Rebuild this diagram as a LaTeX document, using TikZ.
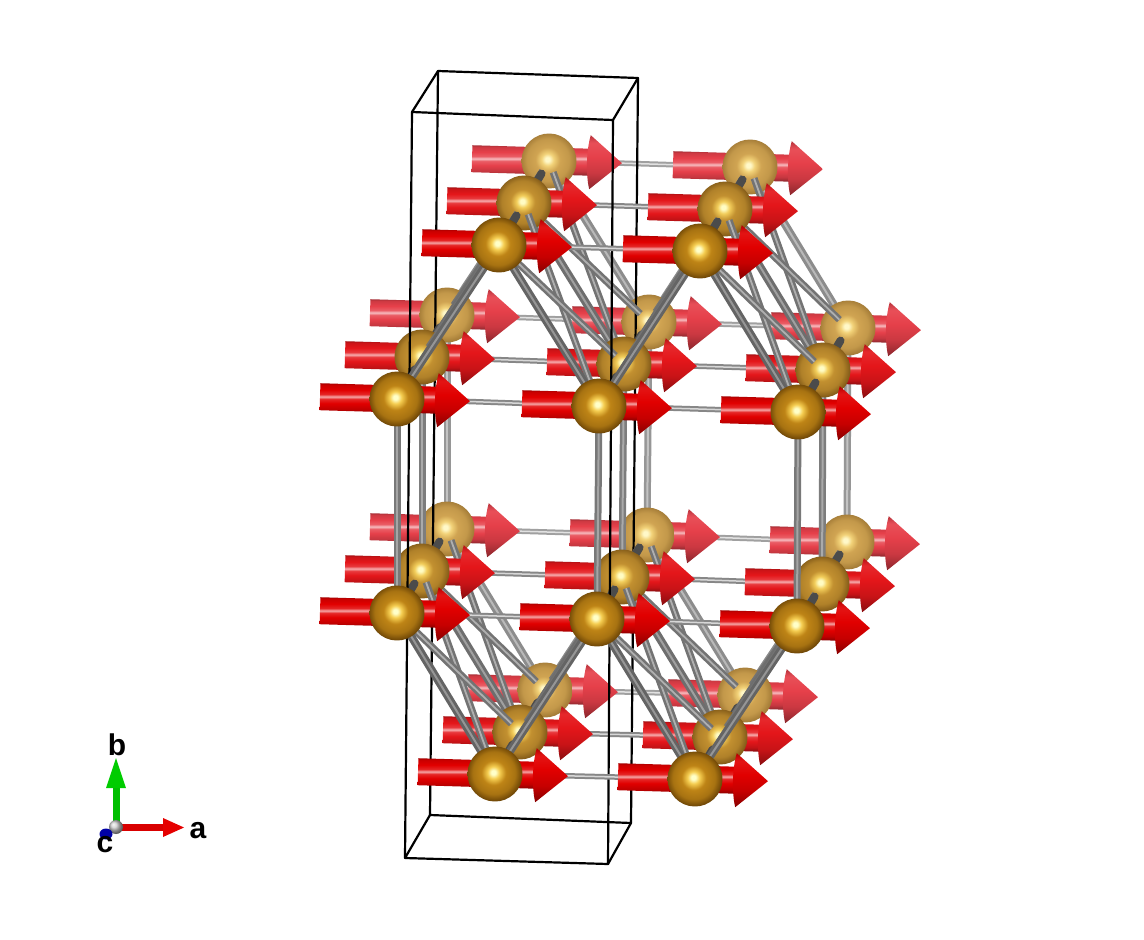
\documentclass[tikz,border=0pt]{standalone}
\usepackage{fontspec}
\setmainfont{Liberation Sans}
\usetikzlibrary{calc}

\definecolor{redF}{RGB}{225,0,0}
\definecolor{redM}{RGB}{228,22,26}
\definecolor{redB}{RGB}{230,64,74}
\definecolor{auHiF}{RGB}{255,255,200}
\definecolor{auYF}{RGB}{245,205,80}
\definecolor{auF}{RGB}{190,132,22}
\definecolor{auEdF}{RGB}{110,70,6}
\definecolor{auHiM}{RGB}{255,252,195}
\definecolor{auYM}{RGB}{242,205,90}
\definecolor{auM}{RGB}{194,144,48}
\definecolor{auEdM}{RGB}{130,90,24}
\definecolor{auHiB}{RGB}{255,248,200}
\definecolor{auYB}{RGB}{242,210,120}
\definecolor{auB}{RGB}{208,164,82}
\definecolor{auEdB}{RGB}{162,122,54}

\newcommand\declshaft[2]{\pgfdeclareverticalshading{#1}{100bp}{color(0bp)=(#2!60!black); color(25bp)=(#2!60!black); color(32bp)=(#2!85!black); color(42bp)=(#2); color(49bp)=(#2!85!white); color(53bp)=(#2!35!white); color(57bp)=(#2!85!white); color(64bp)=(#2); color(72bp)=(#2!90!black); color(75bp)=(#2!75!black); color(100bp)=(#2!75!black)}}
\newcommand\declcone[2]{\pgfdeclareverticalshading{#1}{100bp}{color(0bp)=(#2!60!black); color(25bp)=(#2!60!black); color(40bp)=(#2!88!black); color(55bp)=(#2); color(68bp)=(#2!92!white); color(75bp)=(#2!80!black); color(100bp)=(#2!80!black)}}
\newcommand\declatom[5]{\pgfdeclareradialshading{#1}{\pgfpoint{-1.5bp}{1.5bp}}{color(0bp)=(#2); color(2bp)=(#2); color(5.5bp)=(#3); color(11bp)=(#4); color(19bp)=(#4!72!#5); color(25bp)=(#5); color(50bp)=(#5)}}

\declshaft{shaft0}{redF}\declshaft{shaft1}{redM}\declshaft{shaft2}{redB}
\declcone{cone0}{redF}\declcone{cone1}{redM}\declcone{cone2}{redB}
\declatom{atom0}{auHiF}{auYF}{auF}{auEdF}
\declatom{atom1}{auHiM}{auYM}{auM}{auEdM}
\declatom{atom2}{auHiB}{auYB}{auB}{auEdB}

\definecolor{g75}{RGB}{75,75,75}
\definecolor{g100}{RGB}{100,100,100}
\definecolor{g110}{RGB}{110,110,110}
\definecolor{g115}{RGB}{115,115,115}
\definecolor{g120}{RGB}{120,120,120}
\definecolor{g125}{RGB}{125,125,125}
\definecolor{g135}{RGB}{135,135,135}
\definecolor{g140}{RGB}{140,140,140}
\definecolor{g150}{RGB}{150,150,150}
\definecolor{g160}{RGB}{160,160,160}
\definecolor{g165}{RGB}{165,165,165}
\definecolor{g170}{RGB}{170,170,170}
\definecolor{g175}{RGB}{175,175,175}
\definecolor{g185}{RGB}{185,185,185}
\definecolor{g195}{RGB}{195,195,195}
\definecolor{g215}{RGB}{215,215,215}
\definecolor{g225}{RGB}{225,225,225}

\tikzset{
  cellline/.style={line width=2.2pt, draw=black, line join=round, line cap=round},
  dbond0/.style={line width=2pt, draw=g150, preaction={draw=g100, line width=8pt}},
  dbond1/.style={line width=2pt, draw=g160, preaction={draw=g110, line width=8pt}},
  dbond2/.style={line width=2pt, draw=g185, preaction={draw=g140, line width=8pt}},
  vbond0/.style={line width=2pt, draw=g165, preaction={draw=g120, line width=7pt}},
  vbond1/.style={line width=2pt, draw=g170, preaction={draw=g125, line width=7pt}},
  vbond2/.style={line width=2pt, draw=g195, preaction={draw=g150, line width=7pt}},
  hbond0/.style={line width=1.5pt, draw=g215, preaction={draw=g135, line width=5.5pt}},
  hbond1/.style={line width=1.5pt, draw=g215, preaction={draw=g135, line width=5.5pt}},
  hbond2/.style={line width=1.5pt, draw=g225, preaction={draw=g160, line width=5.5pt}},
  xbond/.style={line width=1.8pt, draw=g175, preaction={draw=g115, line width=7pt}},
  stub/.style={line width=8pt, draw=g75, line cap=round},
  axlab/.style={inner sep=0pt, anchor=base, font=\bfseries\fontsize{30}{30}\selectfont},
}

\newcommand\crystallayer[1]{%
  \foreach \p/\q in {A1/B1,A1/B2,A2/B2,A2/B3,C1/D1,C2/D1,C2/D2,C3/D2} \draw[dbond#1] (\p-#1) -- (\q-#1);
  \foreach \p/\q in {B1/C1,B2/C2,B3/C3} \draw[vbond#1] (\p-#1) -- (\q-#1);
  \foreach \p/\q in {A1/A2,B1/B2,B2/B3,C1/C2,C2/C3,D1/D2} \draw[hbond#1] (\p-#1) -- (\q-#1);
  \foreach \s in {A1,A2,B1,B2,B3,C1,C2,C3,D1,D2}{%
    \begin{scope}[shift={(\s-#1)},rotate=-1.7]
      \shade[shading=shaft#1] (-77,-13.5) rectangle (41,13.5);
      \shade[shading=atom#1] (0,0) circle (27.5);
      \shade[shading=cone#1] (41,-27) .. controls (37,-12) and (37,12) .. (41,27) -- (73,0) -- cycle;
    \end{scope}
  }%
}
\newcommand\crossbonds[2]{%
  \foreach \p/\q in {A1/B1,A1/B2,A2/B2,A2/B3,C1/D1,C2/D1,C2/D2,C3/D2}{%
    \draw[xbond] ($(\p-#1)!12pt!(\q-#2)$) -- (\q-#2);
    \draw[xbond] ($(\q-#1)!12pt!(\p-#2)$) -- (\p-#2);
  }%
  \foreach \s in {A1,A2,B1,B2,B3,C1,C2,C3,D1,D2}{%
    \draw[stub] ($(\s-#1)!0.3!(\s-#2)$) -- (\s-#2);
  }%
}

\begin{document}
\begin{tikzpicture}[x=1pt,y=-1pt]
\useasboundingbox (0,0) rectangle (1144,940);
\fill[white] (0,0) rectangle (1144,940);

\foreach \n/\x/\y in {A1/499/245,A2/700/251,B1/397/399,B2/599/406,B3/798/412,C1/397/613,C2/597/619,C3/797/626,D1/495/774,D2/695/779}{%
  \coordinate (\n-0) at (\x,\y);
  \coordinate (\n-1) at (\x+25,\y-42);
  \coordinate (\n-2) at (\x+50,\y-84);
}

% cell corners
\coordinate (k1) at (438,71);  \coordinate (k2) at (638,78);
\coordinate (k3) at (631,823); \coordinate (k4) at (430,815);
\coordinate (f1) at (412,112); \coordinate (f2) at (613,120);
\coordinate (f3) at (608,864); \coordinate (f4) at (405,858);

\crystallayer{2}
\draw[cellline] (k1) -- (k2) -- (k3) -- (k4) -- cycle;
\draw[cellline] (f1) -- (k1) (f2) -- (k2) (f3) -- (k3) (f4) -- (k4);
\crossbonds{2}{1}
\crystallayer{1}
\crossbonds{1}{0}
\draw[cellline] (f1) -- (f2) -- (f3) -- (f4) -- cycle;
\crystallayer{0}

% axis indicator
\coordinate (o) at (116,827);
\fill[green!75!black] (112.5,827) rectangle (120,785);
\fill[green!80!black] (106,788) -- (126,788) -- (116,758) -- cycle;
\fill[red!85!black] (116,823.5) rectangle (165,831);
\fill[red!90!black] (163,818) -- (163,837) -- (184,827.5) -- cycle;
\shade[ball color=gray!40] (o) circle (7);
\fill[blue!65!black] (106,834) ellipse (6.5 and 5.5);
\node[axlab] (lb) at (117,755) {b};
\node[axlab] (la) at (198,838) {a};
\node[axlab] (lc) at (105,852) {c};
\end{tikzpicture}
\end{document}
